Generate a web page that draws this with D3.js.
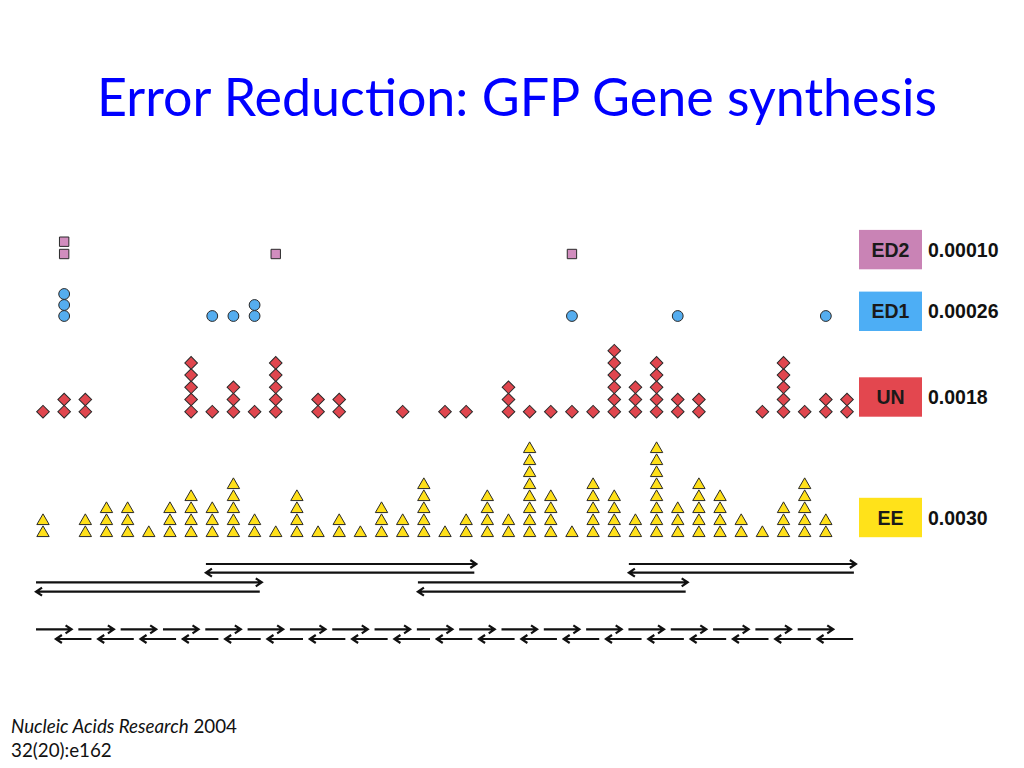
<!DOCTYPE html>
<html>
<head>
<meta charset="utf-8">
<script src="https://cdn.jsdelivr.net/npm/d3@7"></script>
<style>
  html, body { margin: 0; padding: 0; background: #fff; }
  svg { display: block; }
</style>
</head>
<body>
<svg id="chart" width="1024" height="768"></svg>
<script>
// ── Data ──────────────────────────────────────────────
// error counts per gene position (39 columns, left → right)
const columns = d3.range(39);
const eeCounts  = [2,0,2,3,3,1,3,4,3,5,2,1,4,1,2,1,3,2,5,1,2,4,2,8,4,1,5,4,2,8,3,5,4,2,1,3,5,2,0];
const unCounts  = [1,2,2,0,0,0,0,5,1,3,1,5,0,2,2,0,0,1,0,1,1,0,3,1,1,1,1,6,3,5,2,2,0,0,1,5,1,2,2];
const ed1Counts = [0,3,0,0,0,0,0,0,1,1,2,0,0,0,0,0,0,0,0,0,0,0,0,0,0,1,0,0,0,0,1,0,0,0,0,0,0,1,0];
const ed2Counts = [0,2,0,0,0,0,0,0,0,0,0,1,0,0,0,0,0,0,0,0,0,0,0,0,0,1,0,0,0,0,0,0,0,0,0,0,0,0,0];

const seriesNames = ['ED2', 'ED1', 'UN', 'EE'];
const errorRates  = ['0.00010', '0.00026', '0.0018', '0.0030'];

// oligo assembly, in column units
const longStarts = [7.70, -0.33, 17.72, 27.69];
const longEnds   = [20.48, 10.34, 30.47, 38.42];
const longRows   = [0, 1, 1, 0];
const shortFwdStarts = [-0.33,1.67,3.67,5.67,7.67,9.67,11.67,13.67,15.67,17.67,19.67,21.67,23.67,25.67,27.67,29.67,31.67,33.67,35.67];
const shortRevStarts = [0.61,2.61,4.61,6.61,8.61,10.61,12.61,14.61,16.61,18.61,20.61,22.61,24.61,26.61,28.61,30.61,32.61,34.61,36.61];
const shortLen = 1.68;

// ── Styles ────────────────────────────────────────────
const style = {
  ED2: { fill: '#D18DBE', box: '#C983B5', shape: d3.symbolSquare,   size: 88, rot: 0,  step: 12.3, base: 254,   labelY: 249.6 },
  ED1: { fill: '#55ADEF', box: '#4DAEF5', shape: d3.symbolCircle,   size: 92, rot: 0,  step: 11,   base: 316,   labelY: 311.3 },
  UN:  { fill: '#E0464E', box: '#E3474F', shape: d3.symbolSquare,   size: 80, rot: 45, step: 12.2, base: 411.7, labelY: 397 },
  EE:  { fill: '#FFE01A', box: '#FFE21A', shape: d3.symbolTriangle, size: 66, rot: 0,  step: 12,   base: 533,   labelY: 517.5 },
};
const countsBy = { ED2: ed2Counts, ED1: ed1Counts, UN: unCounts, EE: eeCounts };

const svg = d3.select('#chart');
const x = d3.scaleLinear().domain([0, 38]).range([43, 847]);

// fit a text node's font size to a target width
function fitWidth(sel, base, target) {
  const w = sel.node().getComputedTextLength();
  sel.attr('font-size', base * target / w);
}

// ── Title ─────────────────────────────────────────────
const title = svg.append('text')
  .attr('x', 517).attr('y', 116)
  .attr('text-anchor', 'middle')
  .attr('font-family', 'Lato, "Open Sans", sans-serif')
  .attr('font-size', 48)
  .attr('fill', '#0000FF')
  .text('Error Reduction: GFP Gene synthesis');
fitWidth(title, 48, 840);

// ── Markers ───────────────────────────────────────────
seriesNames.forEach(name => {
  const s = style[name];
  const counts = countsBy[name];
  const stackY = d3.scaleLinear().domain([0, 1]).range([s.base, s.base - s.step]);
  const pts = [];
  columns.forEach(c => {
    d3.range(counts[c]).forEach(i => pts.push({ c, i }));
  });
  const sym = d3.symbol().type(s.shape).size(s.size);
  svg.append('g').selectAll('path')
    .data(pts)
    .join('path')
      .attr('d', sym)
      .attr('transform', d => `translate(${x(d.c)},${stackY(d.i)}) rotate(${s.rot})`)
      .attr('fill', s.fill)
      .attr('stroke', '#2a2a2a')
      .attr('stroke-width', 1);

  // label box + rate
  const g = svg.append('g');
  g.append('rect')
    .attr('x', 859).attr('y', s.labelY - 19.7)
    .attr('width', 63).attr('height', 39.4)
    .attr('fill', s.box);
  g.append('text')
    .attr('x', 890.5).attr('y', s.labelY + 7)
    .attr('text-anchor', 'middle')
    .attr('font-family', '"Liberation Sans", Arial, sans-serif')
    .attr('font-weight', 'bold')
    .attr('font-size', 19.5)
    .attr('fill', '#1a1a1a')
    .text(name);
  g.append('text')
    .attr('x', 928).attr('y', s.labelY + 7)
    .attr('font-family', '"Liberation Sans", Arial, sans-serif')
    .attr('font-weight', 'bold')
    .attr('font-size', 19.5)
    .attr('fill', '#111')
    .text(errorRates[seriesNames.indexOf(name)]);
});

// ── Oligo arrows ──────────────────────────────────────
const arrowG = svg.append('g')
  .attr('fill', 'none')
  .attr('stroke', '#111')
  .attr('stroke-width', 2.2)
  .attr('stroke-linecap', 'butt');

function fwdArrow(x0, x1, y) {
  return `M${x0},${y}H${x1}M${x1 - 6},${y - 4}L${x1},${y}L${x1 - 6},${y + 4}`;
}
function revArrow(x0, x1, y) {
  return `M${x1},${y}H${x0}M${x0 + 6},${y - 4}L${x0},${y}L${x0 + 6},${y + 4}`;
}

const longRowY = [[564, 572.7], [582.3, 591.7]];
longStarts.forEach((st, i) => {
  const [yf, yr] = longRowY[longRows[i]];
  arrowG.append('path').attr('d', fwdArrow(x(st), x(longEnds[i]), yf));
  arrowG.append('path').attr('d', revArrow(x(st), x(longEnds[i]) - 2, yr));
});

arrowG.selectAll('path.sf')
  .data(shortFwdStarts)
  .join('path').attr('class', 'sf')
    .attr('d', d => fwdArrow(x(d), x(d + shortLen), 629.3));
arrowG.selectAll('path.sr')
  .data(shortRevStarts)
  .join('path').attr('class', 'sr')
    .attr('d', d => revArrow(x(d), x(d + shortLen), 639));

// ── Citation ──────────────────────────────────────────
const cite = svg.append('text')
  .attr('x', 11).attr('y', 733)
  .attr('font-family', 'Lato, "Open Sans", sans-serif')
  .attr('font-size', 16)
  .attr('fill', '#111');
cite.append('tspan').attr('font-style', 'italic').text('Nucleic Acids Research');
cite.append('tspan').text(' 2004');
fitWidth(cite, 16, 226);
svg.append('text')
  .attr('x', 11).attr('y', 757)
  .attr('font-family', 'Lato, "Open Sans", sans-serif')
  .attr('font-size', cite.attr('font-size'))
  .attr('fill', '#111')
  .text('32(20):e162');
</script>
</body>
</html>
